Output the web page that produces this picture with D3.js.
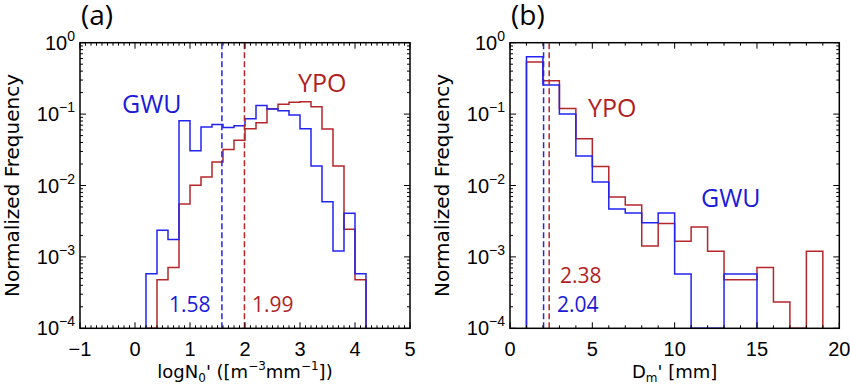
<!DOCTYPE html>
<html lang="en">
<head>
<meta charset="utf-8">
<title>Normalized frequency histograms - GWU vs YPO</title>
<script src="https://d3js.org/d3.v7.min.js"></script>
<style type="text/css">
  body { margin: 0; background: #fff; }
  .tick-label { font-family: 'Liberation Sans', sans-serif; font-size: 20px; fill: #000; }
  .axis-title { font-family: 'DejaVu Sans', sans-serif; fill: #000; }
  .note { font-family: 'Open Sans', sans-serif; }
</style>
</head>
<body>
<div id="chart"></div>
<script>

/* Data */
/* ==== */

// (a) logN0' histogram, bins 0.2 wide, left edges
var binsA = [0.2, 0.4, 0.6, 0.8, 1.0, 1.2, 1.4, 1.6, 1.8, 2.0,
             2.2, 2.4, 2.6, 2.8, 3.0, 3.2, 3.4, 3.6, 3.8, 4.0];
var gwuA = [5.8e-4, 2.36e-3, 1.75e-3, 0.0805, 0.0306, 0.066, 0.0716, 0.065, 0.0686, 0.0859,
            0.132, 0.1175, 0.111, 0.0968, 0.0622, 0.0187, 5.9e-3, 1.21e-3, 4.1e-3, 5.8e-4];
var ypoA = [0, 4.8e-4, 7.1e-4, 5.5e-3, 0.0101, 0.0132, 0.0214, 0.032, 0.0432, 0.0622,
            0.0755, 0.1187, 0.137, 0.147, 0.149, 0.1265, 0.0616, 0.0188, 2.44e-3, 4.8e-4];
var widthA = 0.2;
var meanA = { gwu: 1.58, ypo: 1.99 };

// (b) Dm' histogram, bins 1 mm wide, left edges
var binsB = [1, 2, 3, 4, 5, 6, 7, 8, 9, 10, 11, 12, 13, 14, 15, 16, 17, 18];
var gwuB = [0.637, 0.255, 0.1, 0.0258, 0.0112, 4.7e-3, 4.13e-3, 3.0e-3, 4.13e-3, 5.75e-4,
            0, 0, 5.75e-4, 5.75e-4];
var ypoB = [0.536, 0.293, 0.12, 0.045, 0.0185, 6.9e-3, 5.35e-3, 1.42e-3, 2.93e-3, 1.66e-3,
            2.63e-3, 1.2e-3, 4.8e-4, 4.8e-4, 7.1e-4, 2.33e-4, 0, 1.2e-3];
var widthB = 1;
var meanB = { gwu: 2.04, ypo: 2.38 };

var yTicks = [1, 0.1, 0.01, 0.001, 0.0001];
var yTickExp = ['0', '\u22121', '\u22122', '\u22123', '\u22124'];
var xTicksA = [-1, 0, 1, 2, 3, 4, 5];
var xTicksB = [0, 5, 10, 15, 20];


/* Setup */
/* ===== */

var width = 850,
    height = 384,
    plotTop = 42.7,
    plotBottom = 328.3,
    blue = '#2323f0',
    red = '#b5262b',
    blueText = '#1a1ad8',
    redText = '#b01f24';

var svg = d3.select('#chart').append('svg')
    .attr('width', width)
    .attr('height', height);

function drawPanel(opt) {

  var g = svg.append('g');

  var x = d3.scaleLinear().domain(opt.xDomain).range([opt.left, opt.right]);
  var y = d3.scaleLog().domain([1e-4, 1]).range([plotBottom, plotTop]);

  // step outline for one histogram (empty bins drop to the floor)
  function stepPoints(bins, vals, w) {
    var pts = [[x(bins[0]), plotBottom]];
    vals.forEach(function(v, i) {
      var yy = v > 0 ? y(v) : plotBottom;
      pts.push([x(bins[i]), yy]);
      pts.push([x(bins[i] + w), yy]);
    });
    pts.push([x(bins[vals.length - 1] + w), plotBottom]);
    return pts;
  }

  var line = d3.line();

  g.append('path')
    .attr('d', line(stepPoints(opt.bins, opt.ypo, opt.w)))
    .attr('fill', 'none')
    .attr('stroke', red)
    .attr('stroke-width', 1.5);

  g.append('path')
    .attr('d', line(stepPoints(opt.bins, opt.gwu, opt.w)))
    .attr('fill', 'none')
    .attr('stroke', blue)
    .attr('stroke-width', 1.5);

  // mean lines
  [[opt.mean.gwu, blue], [opt.mean.ypo, red]].forEach(function(m) {
    g.append('line')
      .attr('x1', x(m[0])).attr('x2', x(m[0]))
      .attr('y1', plotBottom).attr('y2', plotTop)
      .attr('stroke', m[1])
      .attr('stroke-width', 1.5)
      .attr('stroke-dasharray', '6,3');
  });

  // frame
  g.append('rect')
    .attr('x', opt.left).attr('y', plotTop)
    .attr('width', opt.right - opt.left).attr('height', plotBottom - plotTop)
    .attr('fill', 'none')
    .attr('stroke', '#000')
    .attr('stroke-width', 1.5);

  // x ticks, inward on top and bottom
  var minorX = d3.range(opt.xDomain[0], opt.xDomain[1] + 1e-9, opt.xMinor);
  minorX.forEach(function(t) {
    var isMajor = opt.xTicks.some(function(m) { return Math.abs(m - t) < 1e-6; });
    var len = isMajor ? 6 : 3;
    g.append('line').attr('x1', x(t)).attr('x2', x(t))
      .attr('y1', plotBottom).attr('y2', plotBottom - len)
      .attr('stroke', '#000').attr('stroke-width', 1);
    g.append('line').attr('x1', x(t)).attr('x2', x(t))
      .attr('y1', plotTop).attr('y2', plotTop + len)
      .attr('stroke', '#000').attr('stroke-width', 1);
  });

  opt.xTicks.forEach(function(t) {
    g.append('text')
      .attr('class', 'tick-label')
      .attr('x', x(t)).attr('y', 356)
      .attr('text-anchor', 'middle')
      .text(t < 0 ? '\u2212' + Math.abs(t) : t);
  });

  // y ticks, log minors on both sides
  yTicks.forEach(function(d) {
    [1, 2, 3, 4, 5, 6, 7, 8, 9].forEach(function(k) {
      var v = d * k;
      if (d === 1 && k > 1) return;
      var len = k === 1 ? 6 : 3;
      g.append('line').attr('x1', opt.left).attr('x2', opt.left + len)
        .attr('y1', y(v)).attr('y2', y(v))
        .attr('stroke', '#000').attr('stroke-width', 1);
      g.append('line').attr('x1', opt.right).attr('x2', opt.right - len)
        .attr('y1', y(v)).attr('y2', y(v))
        .attr('stroke', '#000').attr('stroke-width', 1);
    });
  });

  yTicks.forEach(function(d, i) {
    var t = g.append('text')
      .attr('class', 'tick-label')
      .attr('x', opt.left - 5).attr('y', y(d) + 7)
      .attr('text-anchor', 'end');
    t.append('tspan').text('10');
    t.append('tspan').attr('dy', -9).attr('font-size', 14).text(yTickExp[i]);
  });

  // axis titles
  g.append('text')
    .attr('class', 'axis-title')
    .attr('font-size', 20)
    .attr('transform', 'translate(' + (opt.left - 61) + ',' + ((plotTop + plotBottom) / 2) + ') rotate(-90)')
    .attr('text-anchor', 'middle')
    .text('Normalized Frequency');

  var xt = g.append('text')
    .attr('class', 'axis-title')
    .attr('font-size', 18)
    .attr('x', (opt.left + opt.right) / 2).attr('y', 378)
    .attr('text-anchor', 'middle');
  opt.xTitle(xt);

  // panel label
  g.append('text')
    .attr('class', 'note')
    .attr('font-size', 28)
    .attr('x', opt.left + 1).attr('y', 25)
    .text(opt.label);

  // annotations
  opt.notes.forEach(function(n) {
    g.append('text')
      .attr('class', 'note')
      .attr('font-size', n.size)
      .attr('x', n.x).attr('y', n.y)
      .attr('fill', n.color)
      .text(n.text);
  });
}

drawPanel({
  left: 80, right: 410,
  xDomain: [-1, 5], xMinor: 0.1, xTicks: xTicksA,
  bins: binsA, gwu: gwuA, ypo: ypoA, w: widthA, mean: meanA,
  label: '(a)',
  xTitle: function(t) {
    t.append('tspan').text('logN');
    t.append('tspan').attr('font-size', 12).attr('dy', 4).text('0');
    t.append('tspan').attr('dy', -4).text("' ([m");
    t.append('tspan').attr('font-size', 12).attr('dy', -8).text('\u22123');
    t.append('tspan').attr('dy', 8).text('mm');
    t.append('tspan').attr('font-size', 12).attr('dy', -8).text('\u22121');
    t.append('tspan').attr('dy', 8).text('])');
  },
  notes: [
    { text: 'GWU', x: 122, y: 113, size: 25, color: blueText },
    { text: 'YPO', x: 298, y: 92, size: 25, color: redText },
    { text: '1.58', x: 169, y: 312, size: 21, color: blueText },
    { text: '1.99', x: 252, y: 312, size: 21, color: redText }
  ]
});

drawPanel({
  left: 510, right: 839.3,
  xDomain: [0, 20], xMinor: 1, xTicks: xTicksB,
  bins: binsB, gwu: gwuB, ypo: ypoB, w: widthB, mean: meanB,
  label: '(b)',
  xTitle: function(t) {
    t.append('tspan').text('D');
    t.append('tspan').attr('font-size', 12).attr('dy', 4).text('m');
    t.append('tspan').attr('dy', -4).text("' [mm]");
  },
  notes: [
    { text: 'YPO', x: 588, y: 117, size: 25, color: redText },
    { text: 'GWU', x: 701, y: 207, size: 25, color: blueText },
    { text: '2.38', x: 560, y: 283, size: 21, color: redText },
    { text: '2.04', x: 557, y: 312, size: 21, color: blueText }
  ]
});

</script>
</body>
</html>
